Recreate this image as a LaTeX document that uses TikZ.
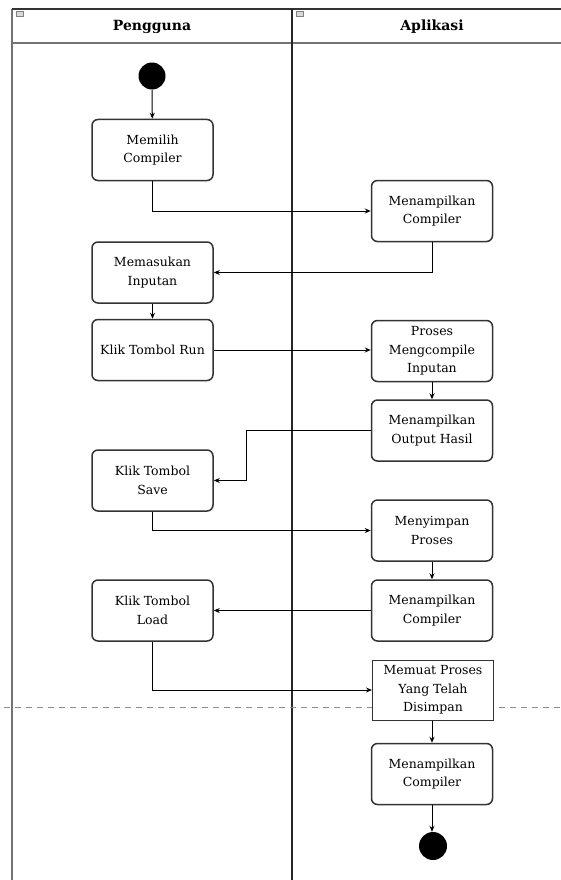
\documentclass[tikz,border=0pt]{standalone}
\usepackage{fontspec}
\setmainfont{DejaVu Serif}
\usetikzlibrary{arrows.meta}
\begin{document}
\begin{tikzpicture}[x=1pt,y=-1pt,
  act/.style={draw=black!80,fill=white,line width=1.5pt,rounded corners=6pt,minimum width=121pt,minimum height=61pt,align=center,font=\fontsize{12.5}{18.5}\selectfont,inner sep=1pt},
  sqact/.style={act,rounded corners=0pt,line width=1pt,minimum height=60pt},
  flow/.style={draw=black,line width=1pt,-{Stealth[length=6pt,width=5pt]}},
  dot/.style={circle,fill=black,minimum size=27pt,inner sep=0pt},
  lane/.style={line width=2pt},
  tag/.style={draw=black!50,fill=black!15,minimum width=7pt,minimum height=5pt,inner sep=0pt}]
\useasboundingbox (0,0) rectangle (561,880);
% swimlane frame
\draw[black!55,line width=2pt] (12,9) -- (12,880);
\draw[black!80,line width=2pt] (12,9) -- (561,9);
\draw[black!55,line width=2.5pt] (12,43) -- (561,43);
\draw[black!85,lane] (292,9) -- (292,880);
\node[tag] (t1) at (20,14) {};
\node[tag] (t2) at (300,14) {};
\node[font=\bfseries\fontsize{14}{16}\selectfont] (h1) at (152,27) {Pengguna};
\node[font=\bfseries\fontsize{14}{16}\selectfont] (h2) at (432,27) {Aplikasi};
% partition line
\draw[black!45,dashed,dash pattern=on 6pt off 5pt,line width=0.8pt] (4,707) -- (561,707);
% activities
\node[dot] (start) at (152,76) {};
\node[act] (a1) at (152.5,150) {Memilih\\Compiler};
\node[act] (b1) at (432,211) {Menampilkan\\Compiler};
\node[act] (a2) at (152.5,272.5) {Memasukan\\Inputan};
\node[act] (a3) at (152.5,350) {Klik Tombol Run};
\node[act] (b2) at (432,351) {Proses\\Mengcompile\\Inputan};
\node[act] (b3) at (432,430.5) {Menampilkan\\Output Hasil};
\node[act] (a4) at (152.5,480.5) {Klik Tombol\\Save};
\node[act] (b4) at (432,530.5) {Menyimpan\\Proses};
\node[act] (a5) at (152.5,610.5) {Klik Tombol\\Load};
\node[act] (b5) at (432,610.5) {Menampilkan\\Compiler};
\node[sqact] (b6) at (433,690) {Memuat Proses\\Yang Telah\\Disimpan};
\node[act] (b7) at (432,774) {Menampilkan\\Compiler};
\node[dot,minimum size=28pt] (end) at (433,846) {};
% control flow
\draw[flow] (start) -- (a1);
\draw[flow] (a1.south) |- (b1.west);
\draw[flow] (b1.south) |- (a2.east);
\draw[flow] (a2) -- (a3);
\draw[flow] (a3) -- (a3 -| b2.west);
\draw[flow] (b2) -- (b3);
\draw[flow] (b3.west) -- ++(-124,0) |- (a4.east);
\draw[flow] (a4.south) |- (b4.west);
\draw[flow] (b4) -- (b5);
\draw[flow] (b5) -- (a5);
\draw[flow] (a5.south) |- (b6.west);
\draw[flow] (b6.south -| b7) -- (b7);
\draw[flow] (b7.south) -- (end.north -| b7.south);
\end{tikzpicture}
\end{document}
